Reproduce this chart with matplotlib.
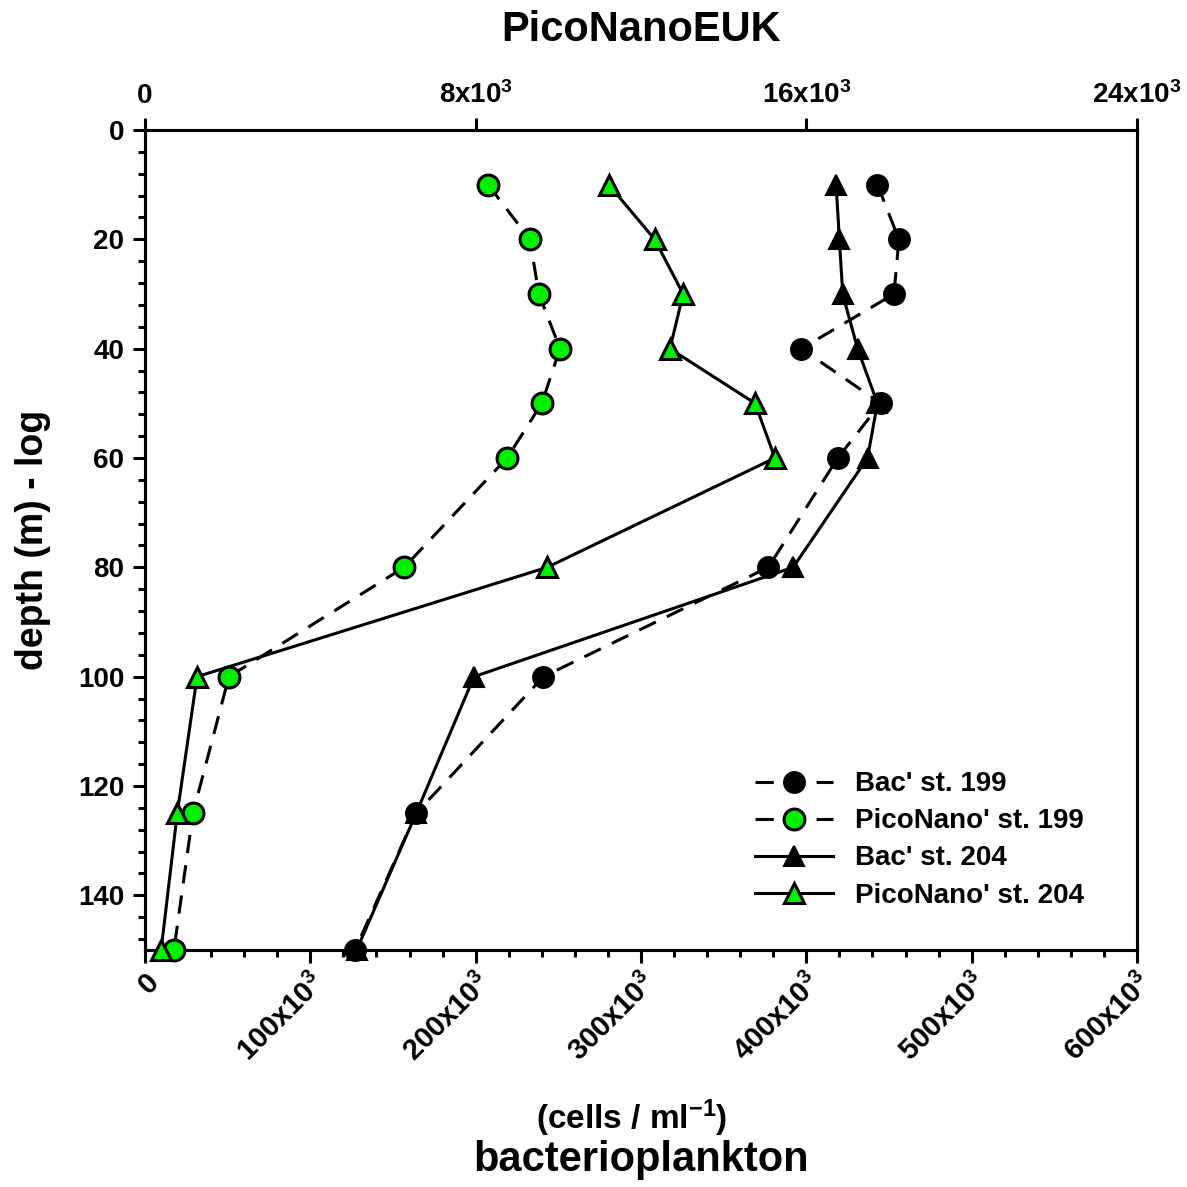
import matplotlib.pyplot as plt
from matplotlib.ticker import MultipleLocator

plt.rcParams['font.family'] = ['Liberation Sans', 'DejaVu Sans']
plt.rcParams['font.weight'] = 'bold'
plt.rcParams['mathtext.fontset'] = 'custom'
plt.rcParams['mathtext.rm'] = 'Liberation Sans:bold'
plt.rcParams['mathtext.bf'] = 'Liberation Sans:bold'
plt.rcParams['mathtext.default'] = 'rm'

# ------------------------------------------------
# DATA
# ------------------------------------------------
depth = [10, 20, 30, 40, 50, 60, 80, 100, 125, 150]

bac_199 = [443e3, 456e3, 453e3, 397e3, 445e3, 419e3, 377e3, 241e3, 164e3, 127e3]
bac_204 = [418e3, 420e3, 422e3, 431e3, 443e3, 437e3, 392e3, 199e3, 164e3, 128e3]

pico_199 = [8300, 9310, 9530, 10040, 9600, 8760, 6270, 2030, 1160, 700]
pico_204 = [11220, 12330, 13020, 12700, 14760, 15240, 9730, 1260, 780, 390]

bottom_ticks = [0, 100e3, 200e3, 300e3, 400e3, 500e3, 600e3]
bottom_labels = ["0", "100x10$^{3}$", "200x10$^{3}$", "300x10$^{3}$",
                 "400x10$^{3}$", "500x10$^{3}$", "600x10$^{3}$"]
top_ticks = [0, 8000, 16000, 24000]
top_labels = ["0", "8x10$^{3}$", "16x10$^{3}$", "24x10$^{3}$"]
depth_ticks = [0, 20, 40, 60, 80, 100, 120, 140]

GREEN = "#00f000"
LW = 2.2
DASH = (0, (6, 4))
MS = 15

# ------------------------------------------------
# PLOT
# ------------------------------------------------
fig = plt.figure(figsize=(11.87, 11.87), dpi=100)
ax = fig.add_axes([145 / 1187, 1 - 950 / 1187, 992 / 1187, 820 / 1187])
ax2 = ax.twiny()

h1, = ax.plot(bac_199, depth, color="black", lw=LW, ls=DASH, marker="o",
              ms=MS, mfc="black", mec="black", mew=1.5, clip_on=False,
              label="Bac' st. 199", zorder=3)
h3, = ax.plot(bac_204, depth, color="black", lw=LW, ls="-", marker="^",
              ms=MS, mfc="black", mec="black", mew=1.5, clip_on=False,
              label="Bac' st. 204", zorder=3)

h2, = ax2.plot(pico_199, depth, color="black", lw=LW, ls=DASH, marker="o",
               ms=MS, mfc=GREEN, mec="black", mew=2.2, clip_on=False,
               label="PicoNano' st. 199", zorder=3)
h4, = ax2.plot(pico_204, depth, color="black", lw=LW, ls="-", marker="^",
               ms=MS, mfc=GREEN, mec="black", mew=2.2, clip_on=False,
               label="PicoNano' st. 204", zorder=3)

# ----- axes -----
ax.set_ylim(150, 0)
ax.set_xlim(0, 600e3)
ax2.set_xlim(0, 24000)

ax.set_yticks(depth_ticks)
ax.yaxis.set_minor_locator(MultipleLocator(4))
ax.set_xticks(bottom_ticks)
ax.set_xticklabels(bottom_labels, rotation=45, ha="right", va="top",
                   rotation_mode="anchor")
ax.xaxis.set_minor_locator(MultipleLocator(20e3))

ax2.set_xticks(top_ticks)
ax2.set_xticklabels(top_labels)

for a in (ax, ax2):
    for s in a.spines.values():
        s.set_linewidth(LW)
    a.tick_params(which="major", direction="out", length=9, width=LW,
                  labelsize=20, pad=6)
    a.tick_params(which="minor", direction="out", length=5, width=LW)

ax.tick_params(axis="y", right=False, which="both")
ax.tick_params(axis="x", which="major", labelsize=21, pad=4)

ax.set_ylabel("depth (m) - log", fontsize=27, fontweight="bold", labelpad=19)

fig.text(641 / 1187, 1 - 30 / 1187, "PicoNanoEUK", fontsize=30,
         fontweight="bold", ha="center", va="center")
fig.text(632 / 1187, 1 - 1118 / 1187, r"(cells / ml$^{-1}$)", fontsize=24,
         fontweight="bold", ha="center", va="center")
fig.text(641 / 1187, 1 - 1160 / 1187, "bacterioplankton", fontsize=30,
         fontweight="bold", ha="center", va="center")

ax2.legend(handles=[h1, h2, h3, h4], loc="lower left",
           bbox_to_anchor=(0.59, 0.02), frameon=False, fontsize=20,
           handlelength=2.8, labelspacing=0.4, handletextpad=0.8)

fig.savefig("out.png", dpi=100)
